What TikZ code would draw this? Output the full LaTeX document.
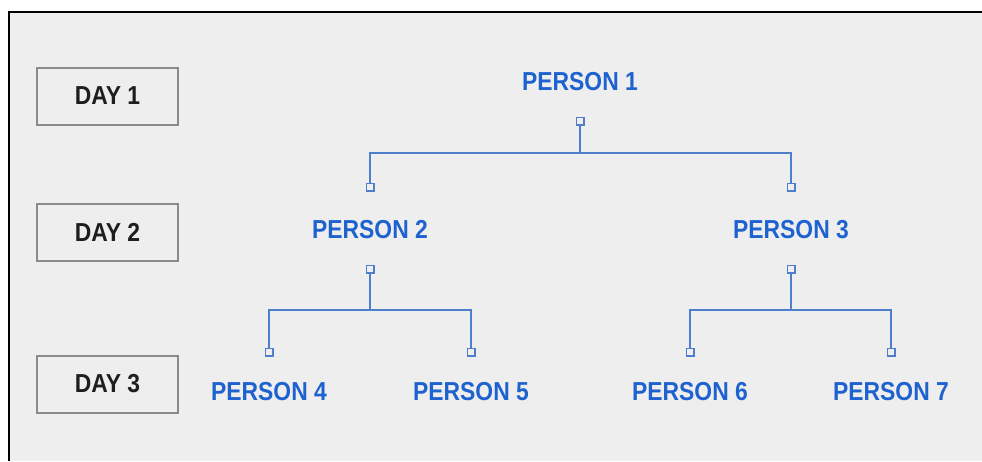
\documentclass[tikz,border=0pt]{standalone}
\usepackage{fontspec}
\setmainfont{Liberation Sans}[FakeStretch=0.88]
\definecolor{bg}{HTML}{EEEEEE}
\definecolor{pblue}{HTML}{1E62D0}
\definecolor{lblue}{HTML}{4F7FCC}
\definecolor{dtext}{HTML}{1E1E1E}
\definecolor{boxgray}{HTML}{8A8A8A}
\tikzset{
  daybox/.style={draw=boxgray, line width=2pt, fill=bg, minimum width=141pt, minimum height=57pt, inner sep=0pt, font=\fontsize{26}{29}\selectfont\bfseries, text=dtext},
  person/.style={inner sep=0pt, font=\fontsize{26}{29}\selectfont\bfseries, text=pblue},
  conn/.style={draw=lblue, line width=1.6pt},
  sq/.style={draw=lblue, line width=1.5pt, fill=bg, minimum size=7.5pt, inner sep=0pt, rectangle}
}
\begin{document}
\begin{tikzpicture}[x=1pt,y=-1pt]
\useasboundingbox (0,0) rectangle (982,461);
\fill[white] (0,0) rectangle (982,461);
\fill[bg] (9,12) rectangle (982,461);
\draw[black, line width=2pt] (8.5,461) -- (8.5,11.5) -- (982,11.5);

\node[daybox] (d1) at (107.5,96) {DAY 1};
\node[daybox] (d2) at (107.5,232) {DAY 2};
\node[daybox] (d3) at (107.5,384) {DAY 3};

\node[person] (p1) at (580,82) {PERSON 1};
\node[person] (p2) at (370,230) {PERSON 2};
\node[person] (p3) at (791,230) {PERSON 3};
\node[person] (p4) at (269,392) {PERSON 4};
\node[person] (p5) at (471,392) {PERSON 5};
\node[person] (p6) at (690,392) {PERSON 6};
\node[person] (p7) at (891,392) {PERSON 7};

% squares
\node[sq] (s1) at (580,121) {};
\node[sq] (s12) at (370,187) {};
\node[sq] (s13) at (791,187) {};
\node[sq] (s2) at (370,269) {};
\node[sq] (s3) at (791,269) {};
\node[sq] (s24) at (269,352) {};
\node[sq] (s25) at (471,352) {};
\node[sq] (s36) at (690,352) {};
\node[sq] (s37) at (891,352) {};

\coordinate (j1) at (580,153);
\coordinate (j2) at (370,310);
\coordinate (j3) at (791,310);

\draw[conn] (s1.south) -- (j1);
\draw[conn] (s12.north) |- (j1) -| (s13.north);
\draw[conn] (s2.south) -- (j2);
\draw[conn] (s24.north) |- (j2) -| (s25.north);
\draw[conn] (s3.south) -- (j3);
\draw[conn] (s36.north) |- (j3) -| (s37.north);
\end{tikzpicture}
\end{document}
